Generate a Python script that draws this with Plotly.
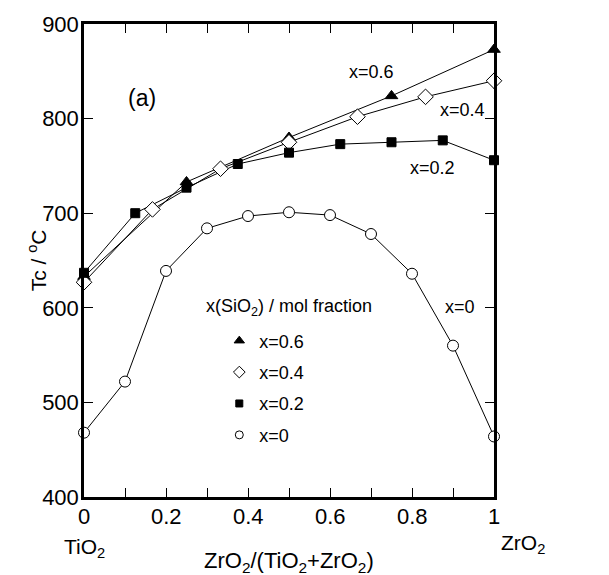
import plotly.graph_objects as go

# Data: ZrO2/(TiO2+ZrO2) fraction vs crystallization temperature Tc (°C)
x06 = [0, 0.25, 0.5, 0.75, 1.0]
y06 = [633, 733, 780, 824, 873]

x04 = [0, 0.167, 0.333, 0.5, 0.667, 0.833, 1.0]
y04 = [627, 704, 747, 775, 802, 823, 840]

x02 = [0, 0.125, 0.25, 0.375, 0.5, 0.625, 0.75, 0.875, 1.0]
y02 = [637, 700, 727, 752, 764, 773, 775, 777, 756]

x00 = [0, 0.1, 0.2, 0.3, 0.4, 0.5, 0.6, 0.7, 0.8, 0.9, 1.0]
y00 = [468, 522, 639, 684, 697, 701, 698, 678, 636, 560, 464]

series_names = ["x=0.6", "x=0.4", "x=0.2", "x=0"]
xtick_vals = [0, 0.2, 0.4, 0.6, 0.8, 1]
xtick_text = ["0", "0.2", "0.4", "0.6", "0.8", "1"]
ytick_vals = [400, 500, 600, 700, 800, 900]

FONT = "Liberation Sans, Arial, Helvetica, sans-serif"

symbols = [("triangle-up", "black", 11, 9), ("diamond", "white", 12, 9),
           ("square", "black", 9, 7), ("circle", "white", 11, 8)]
data = [(x06, y06), (x04, y04), (x02, y02), (x00, y00)]

fig = go.Figure()
# connecting lines
for (xs, ys) in data:
    fig.add_trace(go.Scatter(x=xs, y=ys, mode="lines", line=dict(color="black", width=1),
                             showlegend=False, hoverinfo="skip"))
# markers
for (xs, ys), name, (sym, col, sz, lsz) in zip(data, series_names, symbols):
    fig.add_trace(go.Scatter(x=xs, y=ys, mode="markers", name=name, showlegend=False,
                             marker=dict(symbol=sym, size=sz, color=col,
                                         line=dict(color="black", width=1)),
                             cliponaxis=False))
# legend entries (smaller symbols, like the reference key)
for i, (name, (sym, col, sz, lsz)) in enumerate(zip(series_names, symbols)):
    fig.add_trace(go.Scatter(x=[None], y=[None], mode="markers", name=name,
                             legendgroup=f"g{i}",
                             marker=dict(symbol=sym, size=lsz, color=col,
                                         line=dict(color="black", width=1))))

axis_common = dict(showline=True, linecolor="black", linewidth=2.5, mirror="ticks",
                   ticks="inside", tickcolor="black", tickwidth=1.2, ticklen=9,
                   showgrid=False, zeroline=False,
                   tickfont=dict(family=FONT, size=22, color="black"))

fig.update_layout(
    width=609, height=575,
    margin=dict(l=84, r=115, t=24, b=78),
    paper_bgcolor="white", plot_bgcolor="white",
    font=dict(family=FONT, color="black"),
    xaxis=dict(range=[0, 1], tickmode="linear", tick0=0, dtick=0.1,
               showticklabels=False, **axis_common),
    yaxis=dict(range=[400, 900], tickvals=ytick_vals, ticklabelstandoff=-2, **axis_common),
    showlegend=True,
    legend=dict(x=0.33, y=0.369, xanchor="left", yanchor="top",
                bgcolor="rgba(0,0,0,0)", font=dict(family=FONT, size=18),
                itemsizing="trace", tracegroupgap=5, traceorder="grouped"),
)

# y axis title
fig.add_annotation(x=-0.115, y=0.5, xref="paper", yref="paper", text="Tc / <sup>o</sup>C",
                   textangle=-90, showarrow=False, xanchor="center", yanchor="middle",
                   font=dict(family=FONT, size=21))

# x tick labels (ticks every 0.1, labels every 0.2)
for v, t in zip(xtick_vals, xtick_text):
    fig.add_annotation(x=v, y=0, xref="x", yref="paper", text=t, showarrow=False,
                       yanchor="top", yshift=-5, font=dict(family=FONT, size=22))

annots = [
    ("(a)", 0.141, 822, 23),
    ("x=0.6", 0.702, 849, 18),
    ("x=0.4", 0.924, 809, 18),
    ("x=0.2", 0.851, 748, 18),
    ("x=0", 0.917, 601, 18),
]
for t, ax, ay, fs in annots:
    fig.add_annotation(x=ax, y=ay, xref="x", yref="y", text=t, showarrow=False,
                       font=dict(family=FONT, size=fs))

fig.add_annotation(x=0.5, y=600.6, xref="x", yref="y",
                   text="x(SiO<sub>2</sub>) / mol fraction", showarrow=False,
                   font=dict(family=FONT, size=18))

fig.add_annotation(x=0.0, y=-0.108, xref="paper", yref="paper", text="TiO<sub>2</sub>",
                   showarrow=False, xanchor="center", yanchor="middle",
                   font=dict(family=FONT, size=21))
fig.add_annotation(x=1.07, y=-0.1, xref="paper", yref="paper", text="ZrO<sub>2</sub>",
                   showarrow=False, xanchor="center", yanchor="middle",
                   font=dict(family=FONT, size=21))
fig.add_annotation(x=0.5, y=-0.137, xref="paper", yref="paper",
                   text="ZrO<sub>2</sub>/(TiO<sub>2</sub>+ZrO<sub>2</sub>)",
                   showarrow=False, xanchor="center", yanchor="middle",
                   font=dict(family=FONT, size=22))

fig.write_html("out.html")
